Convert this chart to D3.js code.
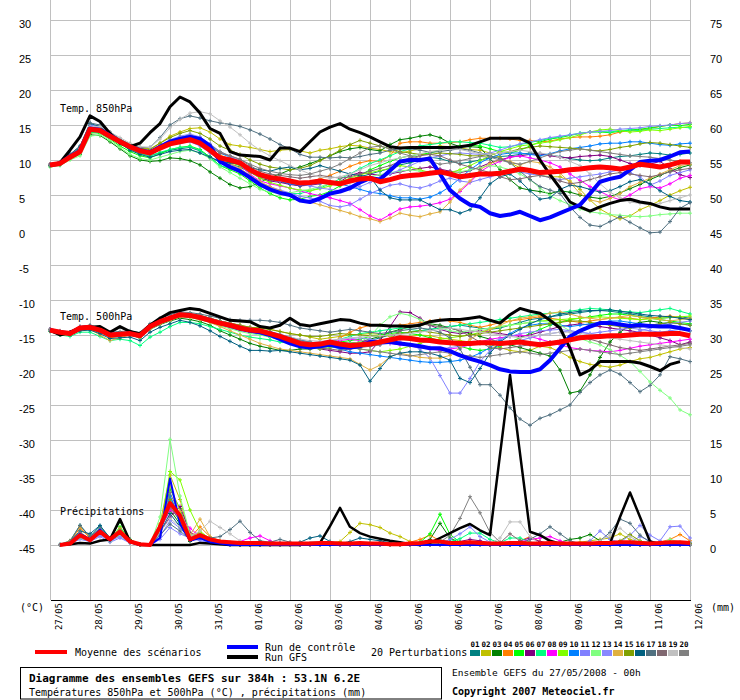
<!DOCTYPE html>
<html lang="fr">
<head>
<meta charset="UTF-8">
<title>Diagramme des ensembles GEFS</title>
<script src="https://d3js.org/d3.v7.min.js"></script>
<style>
  body { margin: 0; background: #fff; }
  svg { display: block; background: #fff; }
  text { font-family: "DejaVu Sans Mono", monospace; fill: #000; }
  .grid line { stroke: #c0c0c0; stroke-width: 1; shape-rendering: crispEdges; }
</style>
</head>
<body>
<svg id="chart" width="740" height="700"></svg>
<script>
// ---- data (6h steps, 0h..384h) ----
const days = ["27/05","28/05","29/05","30/05","31/05","01/06","02/06","03/06","04/06",
  "05/06","06/06","07/06","08/06","09/06","10/06","11/06","12/06"];
const tempTicks = [30,25,20,15,10,5,0,-5,-10,-15,-20,-25,-30,-35,-40,-45];
const precipTicks = [75,70,65,60,55,50,45,40,35,30,25,20,15,10,5,0];

const pertColors = ["#008080","#c0c000","#008000","#ff8000","#00ff00","#800080","#00ff80",
  "#ff00ff","#80ff00","#0080ff","#8080ff","#80ff80","#8888ff","#e0b040","#80a000",
  "#006080","#507080","#806870","#c0c0c0","#808080"];
const pertNames = ["01","02","03","04","05","06","07","08","09","10",
  "11","12","13","14","15","16","17","18","19","20"];

// Temp. 850hPa
const mean850 = [9.3,9.5,10.4,11.2,14.4,14.2,13.4,12.6,11.9,11.3,11.0,11.7,12.3,12.6,12.9,12.4,11.4,10.3,10.0,9.6,8.6,7.9,7.5,7.3,7.0,6.7,6.8,7.0,6.8,6.6,7.0,7.3,7.4,6.9,7.2,7.6,7.8,7.9,8.1,8.3,8.0,7.6,7.8,8.0,8.0,8.1,8.4,8.7,8.5,8.2,8.3,8.4,8.6,8.7,8.9,9.0,8.9,8.7,9.0,9.4,9.2,9.0,9.3,9.7,9.7];
const ctrl850 = [9.3,9.5,10.5,11.3,14.5,14.3,13.5,12.6,11.9,11.4,11.1,11.9,12.6,13.0,13.3,13.0,12.0,9.8,9.0,8.4,7.5,6.5,5.8,5.3,5.0,4.2,4.0,4.5,5.2,5.5,6.0,6.8,7.4,7.2,8.5,9.8,10.0,10.0,10.2,8.0,5.7,4.5,3.6,3.3,2.4,2.0,2.2,2.6,2.0,1.4,1.8,2.4,3.0,3.6,5.2,6.9,7.3,7.6,8.6,9.7,9.9,10.0,10.5,11.1,11.2];
const gfs850 = [9.3,9.6,11.4,13.3,16.3,15.5,13.8,12.4,11.9,12.4,13.9,15.2,17.6,19.0,18.3,16.7,14.5,13.8,11.2,10.7,10.6,10.5,10.0,11.7,11.7,11.2,12.6,14.0,14.7,15.2,14.4,13.9,13.3,12.6,11.9,11.7,11.8,11.8,11.8,11.8,11.8,11.9,12.1,12.6,13.1,13.1,13.1,13.1,12.4,10.0,7.9,6.0,4.0,3.3,2.7,3.3,3.8,4.2,4.4,4.0,3.8,3.3,3.0,3.0,3.0];
const pert850 = [
  [9.2,9.4,10.6,11.8,15.0,14.6,13.5,12.4,11.6,10.9,10.6,11.0,11.4,11.6,11.8,11.3,10.5,9.6,9.4,9.0,8.2,7.6,7.2,6.9,6.6,6.3,6.5,6.9,6.7,6.4,7.0,7.6,8.0,8.4,8.8,9.3,9.6,10.0,10.4,10.2,9.8,9.5,9.7,10.0,10.3,10.5,10.6,10.8,11.0,10.9,10.7,10.5,10.2,10.0,9.9,10.0,10.3,10.5,10.6,10.8,11.0,10.9,10.7,10.8,11.0],
  [9.3,9.6,10.5,11.0,13.8,14.0,13.6,12.9,12.3,11.8,11.6,12.4,13.4,14.0,14.5,14.6,14.0,13.0,12.2,12.0,11.8,11.5,11.2,11.4,11.5,11.3,11.0,11.4,11.6,11.9,12.1,12.0,11.7,11.5,11.2,11.0,11.3,11.6,11.8,12.0,11.9,11.7,11.5,11.4,11.0,10.4,9.6,8.9,8.2,7.8,7.6,7.6,7.0,5.8,4.3,3.0,2.2,1.6,2.0,2.9,3.5,4.2,5.0,5.6,6.1],
  [9.2,9.3,10.2,10.8,13.6,13.5,12.6,11.6,10.6,10.0,9.8,9.9,10.3,10.2,9.9,9.3,8.3,7.4,6.5,6.0,6.2,6.8,7.5,8.0,8.6,9.0,9.5,10.0,10.6,11.2,11.6,11.8,11.5,11.3,12.2,12.9,13.1,13.4,13.6,13.2,12.4,11.9,11.9,11.8,10.2,8.6,7.2,6.0,5.7,5.5,5.2,5.6,5.4,5.0,4.7,4.5,4.8,5.3,5.9,6.5,7.2,7.8,8.4,8.9,9.3],
  [9.4,9.6,10.4,11.2,14.2,14.1,13.3,12.5,11.8,11.3,11.0,11.6,12.2,12.6,12.8,12.5,11.6,10.7,10.2,9.7,8.9,8.0,7.4,7.0,6.8,6.6,6.9,7.3,7.8,8.4,9.1,9.6,9.9,9.8,10.6,12.4,12.6,12.6,12.4,12.4,12.5,12.6,12.9,13.1,13.1,13.1,13.0,12.8,12.8,12.6,12.7,13.0,13.2,13.3,13.3,13.4,13.6,14.0,14.2,14.3,14.5,14.8,15.0,15.2,15.3],
  [9.2,9.4,10.3,11.0,14.0,13.8,13.0,12.0,11.2,10.6,10.3,10.9,11.5,11.8,12.0,11.5,10.4,9.2,8.6,8.0,7.0,6.0,5.2,4.6,4.3,4.4,4.8,5.0,5.5,6.3,7.0,7.8,8.6,9.2,9.8,10.3,10.6,10.8,11.0,11.4,11.8,12.0,12.1,12.0,11.6,11.2,11.0,11.4,12.0,12.6,13.0,13.2,13.5,13.8,14.0,14.0,13.9,14.1,14.3,14.4,14.6,14.8,15.0,14.9,15.1],
  [9.3,9.5,10.4,11.3,14.6,14.4,13.5,12.6,11.9,11.4,11.1,11.8,12.4,12.7,13.0,12.5,11.5,10.4,9.9,9.4,8.3,7.4,7.0,6.8,6.5,6.3,6.4,6.6,6.8,6.9,7.8,8.2,8.0,7.8,8.0,8.3,8.6,8.8,9.0,8.7,8.4,8.2,8.5,9.0,9.6,10.0,10.4,10.6,10.8,10.9,10.6,10.4,10.3,10.5,10.6,10.7,10.5,10.0,9.5,9.2,9.4,9.8,8.8,7.9,7.5],
  [9.2,9.4,10.2,10.9,13.9,13.9,13.1,12.3,11.5,10.9,10.6,11.1,11.5,11.8,11.9,11.4,10.3,9.2,8.8,8.3,7.3,6.5,5.9,5.5,5.2,5.2,5.6,6.0,6.6,7.3,8.0,8.8,9.5,10.0,10.6,11.2,11.6,12.0,12.2,12.4,12.6,12.6,12.5,12.4,12.1,11.8,11.9,12.2,12.5,12.8,13.1,13.3,13.6,13.8,14.0,14.1,14.0,14.2,14.3,14.2,14.4,14.5,14.6,14.7,14.6],
  [9.3,9.6,10.5,11.4,14.7,14.5,13.7,12.8,12.0,11.5,11.3,12.1,12.8,13.2,13.4,12.8,11.6,10.4,9.8,9.2,8.0,7.0,6.6,6.3,6.0,5.6,5.2,4.9,4.6,4.2,3.8,2.9,2.0,1.4,2.2,3.0,3.3,3.4,3.6,3.9,4.4,5.5,6.8,8.3,9.2,9.8,10.4,10.6,10.3,10.0,9.6,9.0,8.0,7.1,6.2,5.5,4.8,4.3,5.0,5.9,6.2,6.0,6.6,7.4,7.8],
  [9.2,9.5,10.3,11.1,14.3,14.0,13.2,12.4,11.7,11.2,10.9,11.5,12.1,12.5,12.7,12.2,11.2,10.2,9.6,9.2,8.3,7.4,6.8,6.4,6.0,5.7,5.6,5.9,6.3,6.9,7.4,7.9,8.2,8.5,8.8,9.2,9.0,8.6,8.2,8.0,8.2,8.6,9.2,9.9,10.6,11.2,11.6,12.0,12.2,12.4,12.6,12.9,13.2,13.6,14.0,14.3,14.4,14.2,14.0,14.1,14.3,14.2,14.4,14.6,14.8],
  [9.3,9.5,10.4,11.3,14.5,14.4,13.6,12.8,12.1,11.5,11.2,12.0,12.8,13.3,13.6,13.2,12.2,11.0,10.4,9.8,8.9,8.0,7.4,7.0,6.6,6.4,6.5,6.7,6.9,6.6,6.2,5.8,5.4,5.2,4.9,4.6,4.6,4.4,4.7,5.3,6.2,7.4,8.6,9.6,10.3,10.8,11.0,11.0,10.8,10.6,10.9,11.3,11.6,11.8,12.0,12.3,12.4,12.4,12.6,12.6,12.4,12.2,12.1,12.3,12.4],
  [9.4,9.6,10.6,11.6,15.0,14.8,13.8,12.8,12.0,11.4,11.0,11.6,12.2,12.4,12.6,12.0,11.0,10.0,9.4,8.6,7.6,6.8,6.2,5.7,5.3,4.8,4.6,4.1,3.5,3.3,3.6,4.4,5.2,5.8,6.4,6.6,6.2,6.0,6.4,7.0,7.4,7.0,6.8,7.2,7.6,8.0,8.4,8.3,8.0,7.8,7.5,7.2,7.4,7.6,7.8,8.0,8.3,8.6,8.2,7.6,6.4,7.0,7.8,8.2,8.6],
  [9.0,9.2,10.0,10.6,13.4,13.6,12.8,11.8,10.8,10.2,10.0,10.4,10.8,11.2,11.4,11.0,10.2,9.0,8.2,7.4,6.6,5.8,5.4,5.2,5.3,5.6,5.8,6.2,6.6,6.6,6.9,7.3,7.6,7.9,8.2,8.4,8.6,8.4,8.2,8.0,8.1,8.3,8.6,8.9,9.2,9.0,8.6,8.0,7.2,6.0,4.9,4.2,3.6,3.0,2.6,2.4,2.2,2.1,2.0,1.9,2.0,2.2,2.3,2.4,2.4],
  [9.3,9.5,10.5,11.5,14.8,14.7,13.9,13.0,12.2,11.6,11.3,12.1,12.9,13.4,13.7,13.3,12.3,11.2,10.5,9.9,8.9,8.0,7.4,7.0,6.8,6.6,6.3,6.0,5.8,5.6,5.8,6.2,6.8,7.4,8.0,8.6,9.2,9.8,10.3,10.6,10.9,11.0,10.9,10.8,11.0,11.4,11.9,12.3,12.6,12.9,13.2,13.4,13.6,13.8,14.0,14.1,14.2,14.4,14.5,14.6,14.8,14.9,15.0,15.2,15.3],
  [9.3,9.5,10.4,11.3,14.4,14.3,13.5,12.7,12.0,11.5,11.2,12.0,12.6,13.0,13.2,12.6,11.4,10.2,9.5,8.8,7.8,6.9,6.2,5.6,5.0,4.4,4.0,3.6,3.2,2.8,2.4,1.9,1.6,1.2,1.7,2.4,2.1,1.9,2.3,2.6,4.0,5.7,7.0,8.6,9.5,10.0,9.8,9.3,9.8,9.6,9.0,8.1,6.8,5.2,4.3,4.0,4.5,5.2,6.2,6.8,7.4,8.0,8.6,9.2,9.4],
  [9.3,9.6,10.6,11.5,14.6,14.5,13.7,12.9,12.2,11.7,11.5,12.4,13.2,13.8,14.2,13.8,13.0,12.0,11.4,10.8,10.0,9.4,9.0,8.8,8.6,8.8,9.2,9.9,10.6,11.4,12.2,12.8,12.4,12.0,11.6,11.2,11.0,10.8,10.8,11.0,10.9,10.8,10.6,10.6,10.8,11.0,11.2,11.6,11.8,12.0,11.9,11.8,11.7,11.6,11.4,11.3,11.5,11.8,12.0,12.3,12.5,12.4,12.2,12.0,11.8],
  [9.2,9.4,10.8,12.0,15.2,14.8,13.6,12.4,11.4,10.8,10.4,10.8,11.2,11.4,11.5,11.0,10.4,9.8,9.6,9.4,8.9,8.6,8.4,8.8,9.0,8.6,8.8,9.2,8.8,8.4,8.0,7.8,7.6,5.7,4.6,4.3,4.3,4.3,3.6,2.9,2.9,2.4,2.9,4.6,6.6,7.6,8.0,7.0,5.6,4.4,4.6,5.8,6.4,6.2,5.8,5.4,5.6,6.2,6.9,7.2,6.6,5.6,4.8,4.2,4.0],
  [9.4,9.7,10.8,11.9,15.3,15.0,14.0,13.0,12.2,11.8,11.8,13.2,15.0,15.9,16.3,16.0,15.6,15.3,15.1,14.8,14.3,13.7,13.0,12.2,11.6,10.8,10.4,10.4,10.3,10.4,10.3,10.5,10.8,11.0,11.4,11.6,11.6,11.4,11.1,11.2,11.4,11.6,11.4,11.0,10.6,10.2,9.6,8.4,7.2,6.2,5.7,5.2,3.3,1.8,0.7,0.5,1.2,1.9,1.1,0.3,-0.4,-0.3,1.2,3.1,3.9],
  [9.3,9.5,10.3,11.1,14.2,14.1,13.4,12.6,11.9,11.4,11.2,11.9,12.6,13.0,13.2,12.8,11.9,11.0,10.6,10.1,9.2,8.4,8.0,7.8,7.6,7.4,7.6,7.8,7.6,7.4,7.6,8.0,8.4,8.8,9.2,9.8,10.3,10.6,10.8,10.6,10.0,9.4,9.0,8.6,8.2,7.6,7.2,7.3,7.6,7.8,7.5,7.0,6.6,6.8,7.2,7.6,8.0,8.2,8.0,7.8,7.6,7.9,8.3,8.6,8.8],
  [9.4,9.7,10.6,11.6,14.8,14.8,14.0,13.2,12.4,11.9,11.8,13.0,14.6,15.8,16.7,16.9,16.6,15.6,14.7,13.6,12.4,11.4,10.6,9.9,9.2,8.6,8.0,7.6,7.4,7.6,8.0,8.6,9.2,9.6,10.0,10.3,10.6,10.9,11.2,11.4,11.6,11.5,11.2,10.9,10.8,11.0,11.2,11.4,11.2,11.0,10.8,10.4,9.8,9.2,8.0,6.6,5.4,4.6,4.0,3.8,3.6,3.8,4.2,4.6,5.0],
  [9.3,9.5,10.4,11.2,14.3,14.2,13.4,12.6,12.0,11.5,11.2,12.0,12.7,13.2,13.5,13.1,12.2,11.2,10.6,10.1,9.4,8.8,8.4,8.1,7.9,7.8,8.0,8.4,8.8,9.4,10.2,11.0,11.8,12.0,11.6,11.0,10.6,10.2,9.8,9.4,9.6,9.9,10.2,10.5,10.4,10.0,9.6,9.4,9.8,10.3,10.8,11.2,11.4,11.6,11.4,11.2,11.0,10.8,10.6,10.5,10.4,10.2,10.0,9.8,9.6]
];

// Temp. 500hPa
const mean500 = [-14.3,-14.6,-14.8,-14.0,-13.9,-14.3,-15.0,-14.9,-14.8,-15.1,-13.8,-13.1,-12.6,-12.1,-12.2,-12.5,-12.9,-13.3,-13.6,-14.0,-14.3,-14.4,-14.8,-15.2,-15.7,-16.2,-16.4,-16.3,-16.0,-16.3,-16.5,-16.4,-16.3,-16.0,-15.7,-15.4,-15.5,-15.7,-15.8,-16.0,-16.1,-16.2,-16.2,-16.1,-16.1,-16.2,-16.1,-16.0,-16.2,-16.4,-16.2,-16.0,-15.7,-15.4,-15.3,-15.2,-15.1,-15.1,-15.0,-14.9,-14.9,-14.9,-14.8,-14.8,-15.1];
const ctrl500 = [-14.3,-14.6,-14.8,-14.0,-13.9,-14.3,-15.0,-14.9,-14.8,-15.1,-13.8,-13.1,-12.6,-12.1,-12.2,-12.5,-12.9,-13.3,-13.7,-14.1,-14.4,-14.6,-15.0,-15.6,-16.2,-16.6,-16.8,-16.6,-16.4,-16.7,-16.8,-16.6,-16.0,-16.0,-16.0,-16.2,-16.4,-16.6,-16.9,-16.9,-17.3,-17.9,-18.4,-18.8,-19.3,-19.9,-20.2,-20.3,-20.3,-19.9,-18.6,-16.9,-15.2,-14.4,-13.8,-13.3,-13.3,-13.5,-13.7,-13.6,-13.7,-13.8,-13.8,-14.0,-14.3];
const gfs500 = [-14.3,-15.0,-14.6,-14.0,-13.9,-13.8,-14.6,-13.8,-14.5,-14.8,-13.6,-12.6,-11.8,-11.5,-11.2,-11.4,-11.9,-12.4,-12.9,-13.0,-13.1,-13.8,-14.0,-13.6,-12.6,-13.5,-13.7,-13.4,-13.1,-12.8,-12.9,-13.3,-13.6,-13.6,-13.7,-13.7,-13.8,-13.6,-13.1,-12.9,-12.8,-12.8,-12.6,-12.4,-12.9,-13.3,-12.1,-11.2,-11.6,-11.9,-12.9,-14.0,-16.9,-20.7,-20.0,-18.8,-18.8,-18.8,-18.8,-19.0,-19.5,-20.1,-19.2,-18.8,null];
const pert500 = [
  [-14.2,-14.8,-14.6,-13.8,-13.7,-14.1,-15.2,-15.0,-14.6,-15.4,-14.0,-13.2,-12.4,-11.9,-12.0,-12.3,-12.8,-13.4,-13.8,-14.2,-14.6,-14.8,-15.3,-15.6,-16.0,-16.5,-16.8,-16.6,-16.2,-16.0,-16.2,-16.0,-15.8,-15.4,-15.0,-14.8,-14.6,-14.4,-14.2,-14.0,-13.8,-13.6,-13.8,-14.0,-14.2,-14.0,-13.6,-13.2,-12.8,-12.6,-12.4,-12.2,-12.0,-11.8,-11.6,-11.5,-11.6,-11.8,-12.0,-12.2,-12.4,-12.6,-12.5,-12.4,-12.6],
  [-14.4,-14.5,-14.7,-14.1,-13.8,-14.2,-14.8,-14.7,-14.6,-14.9,-13.6,-12.9,-12.4,-11.9,-12.0,-12.2,-12.6,-13.0,-13.3,-13.6,-13.9,-14.0,-14.2,-14.5,-14.8,-15.0,-15.3,-15.6,-15.4,-15.2,-15.0,-14.9,-14.8,-14.9,-15.2,-15.4,-15.2,-15.0,-15.1,-15.4,-15.6,-15.8,-16.0,-16.2,-16.4,-16.8,-17.2,-17.4,-17.2,-16.6,-16.8,-17.4,-18.2,-18.8,-19.2,-19.4,-19.6,-19.3,-18.8,-18.4,-18.2,-17.8,-17.4,-17.0,-16.8],
  [-14.4,-14.9,-15.0,-14.3,-14.2,-14.6,-15.2,-15.1,-15.0,-15.4,-14.2,-13.5,-13.0,-12.6,-12.8,-13.1,-13.6,-14.4,-15.0,-15.6,-16.2,-16.6,-16.9,-17.2,-17.2,-17.0,-17.0,-16.8,-16.6,-16.4,-16.2,-16.0,-15.6,-15.2,-14.6,-14.2,-13.8,-13.6,-13.4,-13.6,-14.0,-14.4,-14.8,-15.2,-15.6,-16.0,-16.4,-16.8,-17.2,-17.6,-18.0,-20.0,-23.3,-23.0,-20.7,-18.2,-16.0,-14.6,-13.6,-13.2,-13.0,-13.2,-13.6,-14.0,-14.4],
  [-14.2,-14.4,-14.9,-14.2,-14.0,-14.5,-15.4,-15.2,-15.0,-15.3,-14.2,-13.4,-12.8,-12.3,-12.3,-12.6,-13.0,-13.4,-13.8,-14.2,-14.5,-14.6,-14.9,-15.3,-15.8,-16.0,-16.3,-16.6,-16.2,-15.4,-14.6,-14.0,-13.6,-13.6,-13.8,-13.6,-13.4,-13.2,-13.0,-12.8,-13.0,-13.2,-13.6,-13.9,-13.6,-13.2,-13.0,-12.8,-12.6,-12.4,-12.6,-12.8,-13.0,-13.2,-13.0,-12.8,-12.6,-12.5,-12.6,-12.8,-12.6,-12.4,-12.3,-12.5,-12.8],
  [-14.3,-14.6,-14.7,-14.0,-13.8,-14.2,-14.9,-14.8,-14.7,-15.0,-13.7,-12.9,-12.4,-11.9,-12.0,-12.3,-12.7,-13.1,-13.4,-13.8,-14.1,-14.3,-14.6,-15.0,-15.4,-15.8,-16.2,-16.4,-16.2,-16.0,-15.8,-15.6,-15.2,-15.0,-14.8,-14.6,-14.8,-15.0,-15.4,-15.8,-16.2,-16.6,-17.0,-17.2,-17.0,-16.6,-16.0,-15.4,-14.8,-14.2,-13.6,-13.2,-12.8,-12.6,-12.4,-12.2,-12.0,-12.0,-12.2,-12.4,-12.6,-12.8,-13.0,-13.2,-13.4],
  [-14.3,-14.7,-14.8,-14.0,-13.9,-14.3,-15.0,-14.9,-14.8,-15.1,-13.8,-13.1,-12.6,-12.1,-12.2,-12.5,-12.9,-13.3,-13.7,-14.1,-14.4,-14.6,-15.0,-15.5,-16.0,-16.5,-16.8,-17.0,-17.2,-17.4,-17.6,-17.6,-17.4,-15.8,-13.8,-11.7,-11.8,-12.6,-13.6,-14.2,-14.6,-14.8,-14.6,-14.4,-14.6,-14.8,-15.0,-15.2,-15.0,-14.6,-14.2,-13.8,-13.6,-13.4,-13.6,-13.8,-14.0,-14.2,-14.4,-14.6,-15.0,-15.4,-15.8,-16.4,-16.0],
  [-14.5,-15.0,-15.2,-14.6,-14.6,-15.2,-15.8,-15.6,-15.8,-16.5,-15.3,-14.6,-13.8,-13.2,-13.2,-13.4,-13.8,-14.2,-14.6,-15.0,-15.3,-15.5,-15.7,-16.0,-16.2,-16.4,-16.6,-16.4,-16.0,-15.6,-15.2,-14.8,-14.6,-14.4,-14.2,-14.0,-14.2,-14.4,-14.2,-14.0,-13.8,-13.6,-13.4,-13.2,-13.0,-12.8,-12.6,-12.4,-12.2,-12.0,-11.9,-11.8,-11.6,-11.4,-11.2,-11.3,-11.4,-11.6,-11.7,-11.8,-11.6,-11.4,-11.2,-11.6,-12.0],
  [-14.2,-14.5,-14.7,-13.9,-13.8,-14.2,-14.9,-14.8,-14.7,-15.0,-13.7,-12.9,-12.5,-12.0,-12.1,-12.4,-12.8,-13.2,-13.5,-13.9,-14.2,-14.4,-14.8,-15.2,-15.6,-16.0,-16.2,-16.2,-16.0,-15.8,-15.6,-15.8,-15.9,-16.0,-16.2,-16.4,-16.6,-16.8,-17.0,-17.2,-17.0,-16.8,-16.4,-16.0,-15.6,-15.4,-15.2,-15.0,-15.2,-15.6,-16.0,-16.4,-16.8,-17.0,-17.2,-17.3,-17.4,-17.2,-16.9,-16.6,-16.4,-16.2,-16.0,-15.8,-15.6],
  [-14.3,-14.6,-14.8,-14.1,-13.9,-14.3,-15.0,-14.9,-14.8,-15.2,-13.9,-13.2,-12.7,-12.2,-12.3,-12.6,-13.0,-13.4,-13.7,-14.1,-14.4,-14.6,-14.9,-15.3,-15.8,-16.4,-16.8,-17.0,-16.8,-16.6,-16.8,-17.0,-17.2,-17.4,-17.2,-17.0,-16.6,-16.2,-15.8,-15.6,-15.4,-15.2,-15.0,-14.6,-14.2,-13.8,-13.6,-13.4,-13.2,-13.0,-12.9,-12.8,-12.7,-12.6,-12.5,-12.4,-12.5,-12.6,-12.7,-12.8,-12.7,-12.6,-12.5,-12.4,-12.3],
  [-14.3,-14.6,-14.8,-14.0,-13.9,-14.3,-15.0,-14.9,-14.8,-15.1,-13.8,-13.0,-12.5,-12.0,-12.1,-12.4,-12.8,-13.2,-13.5,-13.8,-14.0,-14.2,-14.5,-14.9,-15.3,-15.7,-16.0,-16.3,-16.6,-17.0,-17.4,-17.6,-17.8,-18.0,-18.2,-18.4,-18.6,-18.8,-18.9,-18.9,-18.8,-18.6,-18.2,-17.6,-16.8,-15.8,-14.8,-14.0,-13.6,-13.4,-13.4,-13.6,-13.8,-13.6,-13.4,-13.2,-13.0,-13.0,-13.2,-13.4,-13.6,-13.4,-13.2,-13.4,-13.6],
  [-14.3,-14.5,-14.7,-14.0,-13.9,-14.4,-15.1,-15.0,-14.9,-15.2,-13.9,-13.1,-12.6,-12.1,-12.3,-12.6,-13.0,-13.4,-13.8,-14.1,-14.4,-14.6,-15.0,-15.4,-15.8,-16.2,-16.4,-16.6,-16.4,-16.2,-16.4,-16.6,-16.6,-16.4,-16.2,-16.0,-16.4,-17.0,-18.3,-20.8,-23.3,-23.3,-21.2,-18.8,-17.2,-16.4,-16.0,-15.8,-15.4,-15.0,-14.8,-14.6,-14.4,-14.6,-14.8,-14.6,-14.4,-14.2,-14.0,-14.2,-14.4,-14.6,-14.4,-14.2,-14.4],
  [-14.4,-14.8,-15.0,-14.3,-14.1,-14.5,-15.2,-15.1,-15.0,-15.4,-14.2,-13.4,-12.9,-12.4,-12.5,-12.8,-13.2,-13.7,-14.1,-14.5,-14.8,-15.0,-15.3,-15.6,-16.0,-16.4,-16.6,-16.8,-16.6,-16.4,-16.2,-16.0,-15.2,-13.6,-12.4,-11.9,-12.2,-12.8,-13.4,-14.0,-14.4,-14.6,-14.4,-14.2,-14.0,-13.8,-13.6,-13.4,-13.2,-13.0,-13.2,-13.6,-14.4,-15.5,-16.0,-16.4,-17.1,-17.9,-18.8,-20.2,-21.7,-22.9,-24.0,-25.7,-26.4],
  [-14.2,-14.5,-14.6,-13.9,-13.7,-14.1,-14.8,-14.7,-14.6,-14.9,-13.6,-12.9,-12.4,-11.9,-12.0,-12.3,-12.7,-13.1,-13.4,-13.8,-14.1,-14.3,-14.7,-15.1,-15.5,-15.9,-16.1,-16.0,-15.8,-15.6,-15.5,-15.4,-15.6,-15.8,-16.0,-16.2,-16.4,-16.6,-16.8,-17.0,-16.8,-16.6,-16.4,-16.2,-16.0,-15.6,-15.2,-14.8,-14.6,-14.4,-14.3,-14.2,-14.4,-14.6,-14.8,-15.0,-15.2,-15.0,-14.8,-14.4,-14.0,-13.6,-13.4,-13.2,-13.0],
  [-14.4,-14.9,-15.0,-14.3,-14.2,-15.0,-15.8,-15.4,-15.0,-15.3,-14.1,-13.4,-12.9,-12.4,-12.5,-12.8,-13.2,-13.8,-14.4,-15.0,-15.6,-16.2,-16.6,-17.0,-17.2,-17.4,-17.6,-17.8,-18.0,-18.2,-18.4,-19.2,-20.0,-19.3,-18.1,-17.6,-17.9,-18.2,-18.3,-18.3,-17.9,-16.8,-15.6,-14.8,-14.2,-13.6,-13.0,-12.6,-12.4,-12.2,-11.9,-11.7,-12.0,-12.4,-12.6,-12.8,-12.6,-12.4,-12.2,-12.4,-12.6,-12.8,-13.0,-12.8,-12.6],
  [-14.3,-14.6,-14.8,-14.0,-13.8,-14.2,-14.9,-14.8,-14.7,-15.0,-13.7,-12.9,-12.4,-11.9,-12.0,-12.2,-12.6,-13.0,-13.3,-13.6,-13.9,-14.0,-14.2,-14.5,-14.8,-15.0,-15.2,-15.2,-15.0,-14.8,-14.9,-15.0,-15.1,-15.2,-15.0,-14.8,-14.6,-14.4,-14.6,-14.8,-15.0,-15.2,-15.0,-14.8,-14.6,-14.4,-14.2,-14.0,-13.8,-13.6,-13.4,-13.2,-13.0,-13.0,-13.2,-13.4,-13.6,-13.8,-14.0,-13.8,-13.6,-13.4,-13.2,-13.4,-13.6],
  [-14.4,-14.8,-15.0,-14.4,-14.3,-14.8,-15.5,-15.4,-15.3,-15.8,-14.6,-13.9,-13.4,-12.9,-13.2,-13.7,-14.4,-15.2,-15.9,-16.6,-17.2,-17.2,-17.3,-17.2,-17.4,-17.6,-17.8,-18.0,-18.2,-18.4,-18.6,-19.3,-21.6,-19.8,-18.1,-17.6,-17.4,-17.4,-17.6,-18.0,-18.6,-21.2,-21.8,-19.8,-17.6,-16.0,-15.0,-14.2,-13.4,-12.8,-12.4,-12.0,-11.8,-11.6,-11.5,-11.5,-11.4,-11.6,-11.8,-12.0,-12.2,-12.3,-12.4,-12.6,-12.8],
  [-14.2,-14.5,-14.6,-13.8,-13.6,-14.0,-14.6,-14.5,-14.4,-14.7,-13.4,-12.6,-12.1,-11.7,-11.8,-12.0,-12.3,-12.6,-12.8,-12.9,-12.9,-12.9,-13.0,-13.2,-13.6,-14.0,-14.2,-14.4,-14.6,-14.4,-14.2,-14.4,-14.6,-14.8,-14.6,-14.4,-14.2,-14.0,-14.2,-14.6,-15.4,-17.0,-19.6,-22.1,-22.1,-23.6,-25.4,-27.0,-27.9,-26.9,-26.4,-25.7,-25.0,-23.2,-21.8,-20.7,-20.0,-20.6,-21.8,-23.1,-22.2,-20.7,-18.1,-18.4,-18.8],
  [-14.3,-14.6,-14.8,-14.0,-13.9,-14.3,-15.0,-14.9,-14.8,-15.1,-13.8,-13.1,-12.6,-12.1,-12.2,-12.5,-12.9,-13.3,-13.6,-14.0,-14.3,-14.5,-14.9,-15.4,-15.9,-16.4,-16.7,-16.9,-17.0,-17.2,-17.0,-16.8,-16.6,-16.4,-15.6,-14.4,-13.6,-13.4,-13.6,-13.8,-14.0,-14.4,-15.2,-16.0,-16.8,-17.0,-16.8,-16.6,-16.4,-16.2,-16.0,-15.8,-15.6,-15.4,-15.6,-16.0,-16.4,-16.8,-17.0,-17.2,-17.0,-16.8,-16.6,-16.4,-16.2],
  [-14.3,-14.6,-14.8,-14.0,-13.9,-14.2,-14.9,-14.8,-14.7,-15.0,-13.7,-13.0,-12.5,-12.0,-12.1,-12.4,-12.8,-13.2,-13.5,-13.9,-14.2,-14.4,-14.7,-15.0,-15.3,-15.6,-15.8,-15.9,-15.8,-15.6,-15.4,-15.3,-15.2,-15.1,-15.0,-14.9,-14.8,-14.6,-14.4,-14.2,-14.0,-14.2,-14.4,-14.6,-14.8,-15.0,-15.2,-15.4,-15.2,-15.0,-14.8,-14.6,-14.6,-14.8,-15.0,-15.2,-15.4,-15.6,-15.8,-16.0,-16.2,-16.4,-16.6,-16.8,-17.0],
  [-14.2,-14.5,-14.7,-13.9,-13.8,-14.2,-14.9,-14.8,-14.7,-15.0,-13.7,-12.9,-12.4,-11.8,-11.9,-12.2,-12.6,-13.0,-13.3,-13.7,-14.0,-14.2,-14.6,-15.0,-15.4,-15.8,-16.0,-16.2,-16.4,-16.6,-16.8,-17.0,-17.2,-17.4,-17.6,-17.8,-18.0,-17.8,-17.6,-17.4,-17.6,-17.8,-18.0,-18.2,-18.0,-17.8,-17.6,-17.4,-17.6,-17.8,-17.6,-17.4,-17.2,-17.0,-17.2,-17.4,-17.6,-17.8,-17.6,-17.4,-17.2,-17.0,-16.8,-16.6,-16.4]
];

// Précipitations (mm / 6h), no value at 0h
const meanP = [null,0,0.2,1.4,0.7,1.9,0.8,1.9,0.5,0.1,0,2.6,6.0,4.2,0.8,1.4,0.8,0.5,0.4,0.3,0.3,0.3,0.2,0.2,0.2,0.2,0.2,0.3,0.3,0.2,0.2,0.3,0.2,0.2,0.1,0.1,0.2,0.3,0.5,0.5,0.3,0.3,0.4,0.3,0.2,0.2,0.3,0.3,0.2,0.2,0.3,0.2,0.2,0.2,0.2,0.3,0.3,0.4,0.4,0.3,0.2,0.3,0.4,0.4,0.3];
const ctrlP = [null,0,0.3,1.6,0.8,2.2,0.6,1.8,0.4,0,0,1.0,9.5,3.0,0.6,1.0,0.4,0.2,0,0,0,0,0,0,0,0,0,0,0,0,0,0,0,0,0,0,0,0,0,0,0,0,0,0,0,0,0,0,0,0,0,0,0,0,0,0,0,0,0,0,0,0,0,0,0];
const gfsP = [null,0,0.1,0.3,0.2,0.6,0.8,3.7,0.5,0,0,0,0,0,0,0.3,0.2,0.1,0,0,0,0,0,0,0,0,0.3,0.3,2.7,5.3,2.6,1.7,1.2,0.9,0.6,0.4,0.1,0,0.3,1.0,1.7,2.4,3.0,2.1,1.4,12.9,24.3,13.1,1.9,1.4,0.6,0.2,0.1,0.1,0.1,0.1,0.2,4.0,7.5,4.0,0.5,0.1,0.1,0.2,0.2];
const pertP = [
  [null,0.1,0.6,2.8,1.2,2.7,1.0,2.2,0.6,0.1,0,2.0,7.0,3.6,0.8,1.6,1.0,0.4,0.3,0.2,0.1,0.1,0.2,0.3,0.1,0,0.1,0.2,0.1,0,0,0.1,0.2,0.3,0.2,0.1,0,0,0.2,0.4,0.3,0.1,0,0,0.1,0.2,0.3,0.2,0.1,0,0,0.1,0.1,0.2,0.3,0.2,0.1,0,0.1,0.3,0.5,0.3,0.1,0.2,0.3],
  [null,0,0.3,1.8,0.8,2.0,0.7,2.4,0.5,0,0,3.0,10.0,6.5,1.2,1.8,1.0,0.5,0.3,0.2,0.2,0.2,0.1,0.1,0.2,0.1,0.1,0.2,0.3,0.5,1.8,3.1,2.9,2.5,1.7,1.2,0.5,0.1,0,0,0,0,0.1,0.2,0.1,0,0,0,0,0,0.1,0.2,0.3,0.4,0.6,0.8,1.0,1.6,0.8,0.4,0.2,0.3,0.4,0.2,0.1],
  [null,0,0.4,1.2,1.0,2.0,0.9,3.3,0.8,0.1,0,2.2,5.0,3.0,0.5,1.2,0.8,0.3,0.1,0,0,0,0,0,0,0,0.1,0.1,0,0,0,0,0.1,0.2,0.3,0.2,0.1,0.3,0.8,3.1,1.0,0.3,0.2,0.1,0,0,0,0,0,0.1,0.2,0.4,0.8,1.0,1.5,0.6,0.2,0,0,0.1,0.2,0.3,0.2,0.1,0],
  [null,0,0.5,2.4,1.0,2.2,0.8,2.0,0.6,0.1,0,2.8,6.0,4.4,1.0,2.6,1.2,0.6,0.3,0.2,0.1,0.1,0,0,0,0.1,0.1,0,0,0,0.1,0.2,0.2,0.1,0.1,0.2,0.4,0.8,1.4,0.6,0.2,0.1,0,0,0,0,0.2,0.6,1.2,0.5,0.2,0.1,0,0,0,0,0.1,0.2,0.4,0.5,0.3,0.4,0.8,1.5,0.6],
  [null,0,0.3,1.5,0.8,2.2,0.7,2.6,0.6,0,0,2.5,8.0,5.2,0.9,1.5,0.9,0.4,0.2,0.1,0.1,0,0,0,0,0,0,0,0,0.1,0.1,0,0,0,0,0,0.1,0.4,1.6,4.4,1.5,0.4,0.1,0,0,0,0.1,0.2,0.1,0,0,0,0,0,0.1,0.2,0.1,0,0,0,0.1,0.3,0.5,0.3,0.2],
  [null,0,0.2,1.0,0.6,1.6,0.5,1.5,0.4,0,0,1.8,4.0,5.5,1.8,1.0,0.6,0.3,0.1,0,0,0,0,0,0,0,0,0,0,0,0,0,0,0,0,0,0,0,0,0.1,0.2,0.5,0.8,0.6,0.3,0.1,0,0.6,1.0,0.5,0.2,0,0,0,0,0,0.1,0.2,0.3,0.4,0.2,0.1,0,0.1,0.2],
  [null,0,0.4,1.4,0.8,1.8,0.8,2.2,0.5,0.1,0,2.4,6.0,3.2,0.7,1.4,0.8,0.3,0.2,0.1,0,0,0,0,0.1,0.1,0,0,0,0,0,0,0,0,0,0,0,0.1,0.3,0.7,0.5,0.9,1.7,1.7,0.8,0.3,1.0,1.0,0.4,0.1,0,0,0,0,0,0.1,0.2,0.2,0.1,0,0,0.1,0.2,0.2,0.1],
  [null,0,0.3,1.3,0.7,1.9,0.8,1.7,0.4,0,0,2.2,5.0,4.0,2.4,1.2,0.7,0.4,0.3,0.5,1.0,1.3,0.6,0.2,0.1,0,0,0,0,0,0,0,0,0,0,0,0,0,0,0,0.1,0.2,0.4,0.3,0.2,0.1,0.2,0.4,0.8,1.0,1.2,0.6,0.2,0,0,0,0.1,0.2,0.4,0.3,0.1,0,0,0.1,0.2],
  [null,0,0.2,1.2,0.7,1.8,0.6,1.6,0.4,0,0,2.0,10.5,9.3,5.0,2.0,0.8,0.4,0.2,0.1,0.1,0,0,0,0,0,0,0,0,0,0,0.1,0.2,0.1,0,0,0,0.1,0.2,0.3,0.2,0.1,0,0,0,0,0,0.1,0.2,0.1,0,0,0,0,0,0,0,0.1,0.2,0.1,0,0,0.1,0.2,0.3],
  [null,0,0.4,1.6,0.8,2.0,0.8,2.0,0.5,0,0,2.6,7.0,3.8,0.8,1.0,0.6,0.3,0.1,0,0,0,0,0,0,0,0,0,0,0,0,0,0,0,0,0,0,0,0.1,0.2,0.1,0,0,0,0,0,0,0,0,0,0,0,0,0,0,0,0,0.1,0.2,0.1,0,0,0,0,0],
  [null,0,0.2,0.8,0.5,1.2,0.4,1.0,0.3,0,0,0.8,2.5,1.6,1.0,0.6,0.4,0.2,0.1,0,0,0,0,0,0,0,0,0,0,0,0,0,0,0,0,0,0,0,0,0.2,0.8,1.6,2.6,1.2,0.4,0.1,0,0,0,0,0,0,0,0,0.6,2.0,0.8,0.4,1.4,2.8,1.4,0.6,2.6,2.7,1.0],
  [null,0,0.2,1.0,0.6,1.5,0.5,1.4,0.3,0,0,4.0,15.1,7.0,1.5,1.0,0.6,0.2,0.1,0,0,0,0,0,0,0,0,0,0,0,0,0,0,0,0,0,0,0,0,0,0,0,0.1,0.2,0.1,0,0,0,0,0,0,0,0,0,0,0,0,0,0,0,0,0.2,0.8,0.4,0.2],
  [null,0,0.3,1.1,0.6,1.4,0.6,1.2,0.3,0,0,1.2,3.5,2.4,0.9,0.8,0.5,0.3,0.1,0,0,0,0,0,0,0,0,0,0,0,0,0,0,0,0,0,0,0,0,0,0,0.1,0.3,0.2,0,0,0,0,0,0,0,0,0,0,0,0,0,0.1,0.4,1.2,0.6,0.2,0.1,0.2,0.4],
  [null,0,0.6,2.6,1.2,2.2,0.9,2.4,0.6,0.1,0,3.0,8.5,4.8,1.4,3.7,1.2,0.5,0.3,0.2,0.1,0,0,0,0,0,0,0,0,0,0,0,0,0,0,0,0,0,0,0,0,0,0,0,0,0,0,0,0,0,0,0,0,0,0,0,0,0,0,0,0,0,0,0.1,0.2],
  [null,0,0.3,1.4,0.8,1.8,0.7,2.1,0.5,0,0,2.6,6.5,4.0,0.9,1.3,0.7,0.3,0.2,0.1,0,0,0,0,0,0,0,0,0,0,0,0,0,0,0,0,0,0,0,0,0,0,0,0,0,0,0,0,0,0,0,0,0,0,0,0,0.2,0.6,1.5,0.6,0.2,0,0.1,0.2,0.2],
  [null,0,0.5,2.0,1.6,2.8,1.0,2.0,0.6,0.1,0,1.8,4.5,2.6,0.8,1.0,0.6,0.3,0.1,0,0,0,0,0,0.1,0.4,1.0,1.3,0.5,0.2,0.5,1.0,0.8,0.6,0.3,0.1,0,0,0,0.2,0.4,0.2,0,0,0,0,0,0,0.1,0.1,0,0,0,0,0,0,0,0,0,0,0,0,0,0,0],
  [null,0,0.5,2.8,1.2,2.4,1.0,2.0,0.6,0.1,0,1.4,3.0,2.0,0.8,1.2,1.0,1.2,2.2,3.4,1.8,0.6,0.4,0.8,0.4,0.1,0,0,0,0,0,0,0,0,0,0,0,0,0,0,0,0,0,0,0,0,0,0.2,0.8,1.6,2.6,1.6,0.6,0.2,0,0.6,1.8,3.7,3.1,1.4,0.4,0.1,0,0,0],
  [null,0,0.3,1.2,0.7,1.7,0.7,1.8,0.4,0,0,2.2,5.5,3.4,0.8,1.0,0.6,0.3,0.1,0,0,0,0,0,0,0,0,0,0,0,0,0,0,0,0,0,0,0,0,0,0,0,0,0,0,0.3,1.6,0.6,0.2,0,0,0,0,0,0,0,0,0,0,0,0,0,0,0,0.1],
  [null,0,0.4,1.6,0.8,2.0,0.8,1.9,0.5,0,0,1.8,3.8,2.6,1.2,2.0,3.4,2.5,1.6,0.6,0.2,0.1,0,0,0,0,0,0,0,0,0,0,0,0,0,0,0,0,0,0,0,0,0,0,0.2,1.0,3.3,3.3,1.2,0.2,0,0,0,0,0,0.6,1.4,2.4,1.2,0.4,0.1,0,0,0,0],
  [null,0,0.4,1.8,0.9,2.2,0.8,2.0,0.5,0,0,2.4,7.5,4.2,1.0,1.4,0.8,0.4,0.2,0.1,0,0,0,0,0,0,0,0,0,0,0,0,0,0,0,0,0,0,0,0.4,1.4,3.8,6.9,4.6,1.8,0.4,0,0,0,0,0,0,0,0,0,0,0,0,0,0,0,0,0,0,0]
];

// ---- chart ----
const svg = d3.select("#chart");

const x = d3.scaleLinear().domain([0, 64]).range([50, 690]);
const xDay = d3.scaleLinear().domain([0, 16]).range([50, 690]);
const yT = d3.scaleLinear().domain([30, -45]).range([20, 545]);
const yP = d3.scaleLinear().domain([75, 0]).range([20, 545]);
const dayIdx = days.map((d, i) => i);

// grid
const grid = svg.append("g").attr("class", "grid");
grid.selectAll("line.h").data(tempTicks).enter().append("line")
  .attr("class", "h")
  .attr("x1", 50).attr("x2", 690)
  .attr("y1", d => yT(d) + 0.5).attr("y2", d => yT(d) + 0.5);
grid.selectAll("line.v").data(dayIdx).enter().append("line")
  .attr("class", "v")
  .attr("x1", d => xDay(d) + 0.5).attr("x2", d => xDay(d) + 0.5)
  .attr("y1", 0).attr("y2", 600);

// axes
const axL = svg.append("g").attr("transform", "translate(50,0)")
  .call(d3.axisLeft(yT).tickValues(tempTicks).tickSize(0).tickFormat(d => String(d)));
axL.select(".domain").remove();
axL.attr("font-family", "Liberation Sans, Arial, sans-serif").attr("font-size", 11);
axL.selectAll("text").attr("text-anchor", "start").attr("x", -31).attr("dy", "0.66em")
  .style("font-family", "Liberation Sans, Arial, sans-serif");

const axR = svg.append("g").attr("transform", "translate(690,0)")
  .call(d3.axisRight(yP).tickValues(precipTicks).tickSize(0).tickFormat(d => String(d)));
axR.select(".domain").remove();
axR.attr("font-family", "Liberation Sans, Arial, sans-serif").attr("font-size", 11);
axR.selectAll("text").attr("text-anchor", "start").attr("x", 20).attr("dy", "0.66em")
  .style("font-family", "Liberation Sans, Arial, sans-serif");

const axB = svg.append("g").attr("transform", "translate(0,600)")
  .call(d3.axisBottom(xDay).tickValues(dayIdx).tickSize(0).tickFormat(i => days[i]));
axB.select(".domain").attr("stroke", "#000").attr("shape-rendering", "crispEdges");
axB.attr("font-size", 9).attr("font-family", null);
axB.selectAll("text")
  .attr("transform", "rotate(-90)")
  .attr("text-anchor", "end")
  .attr("x", -3).attr("y", 11).attr("dy", 0);

svg.append("text").attr("x", 20).attr("y", 611).attr("font-size", 10).text("(°C)");
svg.append("text").attr("x", 711).attr("y", 611).attr("font-size", 10).text("(mm)");

// series
const lineT = d3.line().defined(d => d !== null).x((d, i) => x(i)).y(d => yT(d));
const lineP = d3.line().defined(d => d !== null).x((d, i) => x(i)).y(d => yP(d));

function crosses(data, ys) {
  return data.map((d, i) => d === null ? "" :
    `M${x(i) - 2},${ys(d)}h4M${x(i)},${ys(d) - 2}v4`).join("");
}

function drawPanel(perts, gfs, ctrl, mean, ys, line, w) {
  const g = svg.append("g");
  perts.forEach((s, k) => {
    g.append("path").datum(s)
      .attr("fill", "none").attr("stroke", pertColors[k]).attr("stroke-width", 1)
      .attr("d", line);
    g.append("path")
      .attr("fill", "none").attr("stroke", pertColors[k]).attr("stroke-width", 1)
      .attr("d", crosses(s, ys));
  });
  g.append("path").datum(gfs).attr("fill", "none").attr("stroke", "#000")
    .attr("stroke-width", w[0]).attr("stroke-linejoin", "round").attr("d", line);
  g.append("path").datum(ctrl).attr("fill", "none").attr("stroke", "#0000ff")
    .attr("stroke-width", w[1]).attr("stroke-linejoin", "round").attr("d", line);
  g.append("path").datum(mean).attr("fill", "none").attr("stroke", "#ff0000")
    .attr("stroke-width", w[2]).attr("stroke-linejoin", "round").attr("d", line);
}

drawPanel(pert850, gfs850, ctrl850, mean850, yT, lineT, [3, 4, 5]);
drawPanel(pert500, gfs500, ctrl500, mean500, yT, lineT, [3, 4, 5]);
drawPanel(pertP, gfsP, ctrlP, meanP, yP, lineP, [2.5, 2, 4]);

// panel labels
svg.append("text").attr("x", 60).attr("y", 112).attr("font-size", 10).text("Temp. 850hPa");
svg.append("text").attr("x", 60).attr("y", 320).attr("font-size", 10).text("Temp. 500hPa");
svg.append("text").attr("x", 60).attr("y", 515).attr("font-size", 10).text("Précipitations");

// legend
svg.append("line").attr("x1", 35).attr("x2", 67).attr("y1", 652).attr("y2", 652)
  .attr("stroke", "#ff0000").attr("stroke-width", 4);
svg.append("text").attr("x", 75).attr("y", 656).attr("font-size", 10).text("Moyenne des scénarios");
svg.append("line").attr("x1", 227).attr("x2", 258).attr("y1", 647).attr("y2", 647)
  .attr("stroke", "#0000ff").attr("stroke-width", 4);
svg.append("line").attr("x1", 227).attr("x2", 258).attr("y1", 657).attr("y2", 657)
  .attr("stroke", "#000").attr("stroke-width", 4);
svg.append("text").attr("x", 265).attr("y", 651).attr("font-size", 10).text("Run de contrôle");
svg.append("text").attr("x", 265).attr("y", 661).attr("font-size", 10).text("Run GFS");
svg.append("text").attr("x", 371).attr("y", 656).attr("font-size", 10).text("20 Perturbations");

const sw = svg.append("g");
sw.selectAll("rect").data(pertColors).enter().append("rect")
  .attr("x", (d, k) => 470 + 11 * k).attr("y", 650)
  .attr("width", 10).attr("height", 6).attr("fill", d => d);
sw.selectAll("text").data(pertNames).enter().append("text")
  .attr("x", (d, k) => 475 + 11 * k).attr("y", 647)
  .attr("text-anchor", "middle").attr("font-size", 7.5).attr("font-weight", "bold")
  .text(d => d);

// title box
svg.append("rect").attr("x", 20.5).attr("y", 667.5).attr("width", 421).attr("height", 31.5)
  .attr("fill", "none").attr("stroke", "#000").attr("stroke-width", 1);
svg.append("text").attr("x", 29).attr("y", 682).attr("font-size", 11).attr("font-weight", "bold")
  .text("Diagramme des ensembles GEFS sur 384h : 53.1N 6.2E");
svg.append("text").attr("x", 29).attr("y", 696).attr("font-size", 10)
  .text("Températures 850hPa et 500hPa (°C) , précipitations (mm)");
svg.append("text").attr("x", 452).attr("y", 676).attr("font-size", 9.5)
  .text("Ensemble GEFS du 27/05/2008 - 00h");
svg.append("text").attr("x", 452).attr("y", 695).attr("font-size", 10).attr("font-weight", "bold")
  .text("Copyright 2007 Meteociel.fr");
</script>
</body>
</html>
